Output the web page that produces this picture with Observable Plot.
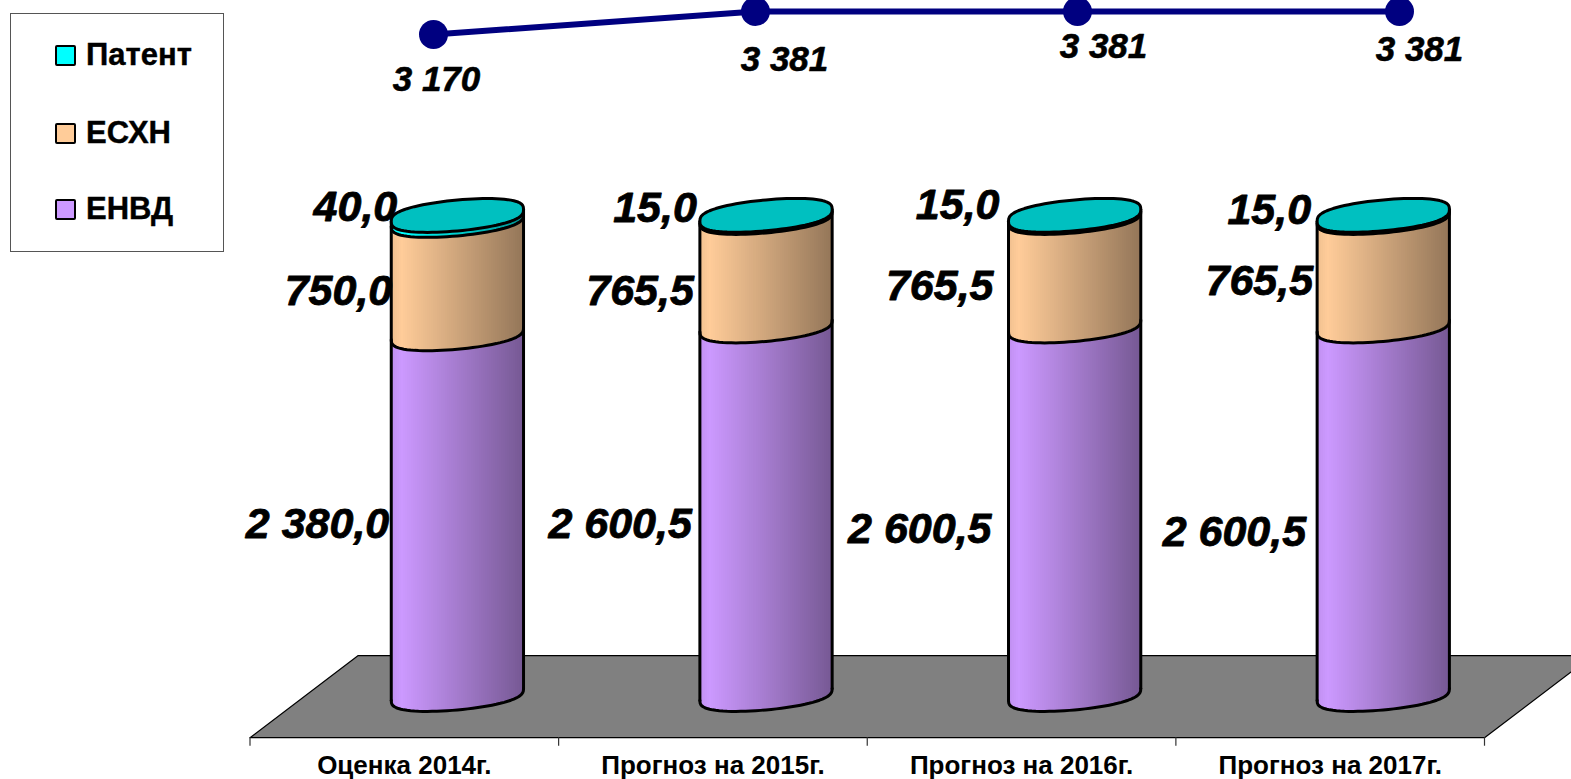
<!DOCTYPE html>
<html><head><meta charset="utf-8">
<script src="https://cdn.jsdelivr.net/npm/d3@7"></script>
<script src="https://cdn.jsdelivr.net/npm/@observablehq/plot@0.6"></script>
<style>
html,body{margin:0;padding:0;background:#fff;overflow:hidden}
#wrap{position:relative;width:1571px;height:779px;font-family:"Liberation Sans",Arial,sans-serif}
#wrap svg{position:absolute;left:0;top:0;background:transparent;overflow:hidden}
#legend{position:absolute;left:10px;top:13px;width:212px;height:237px;border:1px solid #555;box-sizing:content-box}
.li{position:absolute;left:44px;display:flex;align-items:center;font-weight:bold;font-size:31px;color:#000;height:30px;white-space:nowrap;-webkit-text-stroke:0.4px #000}
.sw{width:17px;height:17px;border:2.5px solid #000;border-radius:2px;margin-right:10px;flex:none}
</style></head><body>
<div id="wrap"></div>
<script>
const categories = ["Оценка 2014г.", "Прогноз на 2015г.", "Прогноз на 2016г.", "Прогноз на 2017г."];
const seriesNames = ["ЕНВД", "ЕСХН", "Патент"];
const seriesColors = ["#cc99ff", "#ffcc99", "#00ffff"];
const capColor = "#00c0c0";
// heights as drawn in the picture
const envd = [2545, 2600.5, 2600.5, 2600.5];
const eshn = [800, 765.5, 765.5, 765.5];
const patent = [35, 15, 15, 15];
// labels as printed
const envdLabels = ["2 380,0", "2 600,5", "2 600,5", "2 600,5"];
const eshnLabels = ["750,0", "765,5", "765,5", "765,5"];
const patentLabels = ["40,0", "15,0", "15,0", "15,0"];
const totals = [3170, 3381, 3381, 3381];
const totalLabels = ["3 170", "3 381", "3 381", "3 381"];

// layout (pixels / chart units)
const W = 1571, H = 779, FONT = '"Liberation Sans",Arial,sans-serif';
const OFFSET = 0.672, R = 0.2143, B = 109, S = 42, N = 66, ROUND = 0.72;
const FLOOR_FRONT = -305, FLOOR_BACK = 275, FLOOR_SHIFT = 108 / 308;
const labelNudge = {
  envd:   {dx: [-2, -8, -17, -11], dy: [10, 14, 19, 22]},
  eshn:   {dx: [1, -6, -15, -4],  dy: [14, 20, 15, 10]},
  patent: {dx: [6, -3, -9, -6],   dy: [-8, -7, -10, -5]}
};
const totalNudge = {dx: [3, 29, 26, 20], dy: [45, 48, 35, 38]};

const shade = (hex, u) => {
  const t = (u + 1) / 2;
  const k = t < 0.08 ? 0.94 + t * 0.75 : 1 - (t - 0.08) / 0.92 * 0.42;
  const c = d3.rgb(hex);
  return d3.rgb(c.r * k, c.g * k, c.b * k).formatHex();
};
const bulge = s => Math.sign(s) * Math.pow(Math.abs(s), ROUND);
const lower = u => S * u - B * bulge(Math.sqrt(Math.max(0, 1 - u * u)));

const strips = [], arcs = [], sides = [], caps = [];
categories.forEach((cat, i) => {
  const cx = i + OFFSET;
  const stack = [[0, envd[i], 0], [envd[i], envd[i] + eshn[i], 1], [envd[i] + eshn[i], envd[i] + eshn[i] + patent[i], 2]];
  stack.forEach(([lo, hi, s]) => {
    for (let k = 0; k < N; k++) {
      const a = -1 + 2 * k / N, b = -1 + 2 * (k + 1) / N, m = (a + b) / 2;
      strips.push({x1: cx + R * a, x2: cx + R * b, y1: lo + lower(m), y2: hi + lower(m), fill: shade(seriesColors[s], m)});
    }
    for (let k = 0; k <= 40; k++) {
      const t = Math.PI * k / 40, u = Math.cos(t);
      arcs.push({key: i + "-" + s, x: cx + R * u, y: lo + S * u - B * bulge(Math.sin(t))});
    }
  });
  const top = stack[2][1];
  for (const [u, key] of [[-1, "L"], [1, "R"]]) {
    sides.push({key: i + key, x: cx + R * u, y: S * u});
    sides.push({key: i + key, x: cx + R * u, y: top + S * u});
  }
  for (let k = 0; k <= 80; k++) {
    const t = 2 * Math.PI * k / 80, u = Math.cos(t);
    caps.push({key: i, x: cx + R * u, y: top + S * u - B * bulge(Math.sin(t))});
  }
});

const labelRows = [];
categories.forEach((cat, i) => {
  const x = i + OFFSET - R;
  labelRows.push({x, y: envd[i] / 2, text: envdLabels[i], dx: labelNudge.envd.dx[i], dy: labelNudge.envd.dy[i]});
  labelRows.push({x, y: envd[i] + eshn[i] / 2, text: eshnLabels[i], dx: labelNudge.eshn.dx[i], dy: labelNudge.eshn.dy[i]});
  labelRows.push({x, y: envd[i] + eshn[i] + patent[i], text: patentLabels[i], dx: labelNudge.patent.dx[i], dy: labelNudge.patent.dy[i]});
});

const floor = [
  {x: 0, y: FLOOR_FRONT}, {x: 4, y: FLOOR_FRONT},
  {x: 4 + FLOOR_SHIFT, y: FLOOR_BACK}, {x: FLOOR_SHIFT, y: FLOOR_BACK}, {x: 0, y: FLOOR_FRONT}
];

const main = Plot.plot({
  width: W, height: H, margin: 0, marginBottom: 24,
  style: {fontFamily: FONT, background: "transparent"},
  x: {type: "linear", domain: [0, 4], range: [249.5, 1484]},
  y: {type: "linear", domain: [0, 4897], range: [694, 0], axis: null},
  color: {type: "identity"},
  marks: [
    Plot.line(floor, {x: "x", y: "y", fill: "#808080", stroke: "#000", strokeWidth: 1.2}),
    Plot.ruleX(d3.range(5), {y1: FLOOR_FRONT, y2: FLOOR_FRONT - 60, stroke: "#333", strokeWidth: 1.2}),
    Plot.axisX(categories.map((d, i) => i + 0.5), {
      tickFormat: d => categories[Math.floor(d)], tickSize: 0, tickPadding: 0, label: null,
      fontSize: 26, fontWeight: "bold", fill: "#000", anchor: "bottom"
    }),
    Plot.rect(strips, {x1: "x1", x2: "x2", y1: "y1", y2: "y2", fill: "fill", shapeRendering: "crispEdges"}),
    Plot.line(arcs, {x: "x", y: "y", z: "key", stroke: "#000", strokeWidth: 3}),
    Plot.line(sides, {x: "x", y: "y", z: "key", stroke: "#000", strokeWidth: 3}),
    Plot.line(caps, {x: "x", y: "y", z: "key", fill: capColor, stroke: "#000", strokeWidth: 3}),
    Plot.text(labelRows, {
      x: "x", y: "y", text: "text", textAnchor: "end", fontSize: 43, fontWeight: "bold",
      fontStyle: "italic", fill: "#000", stroke: "#000", strokeWidth: 0.8, lineAnchor: "middle",
      render(index, scales, values, dims, ctx, next) {
        const g = next(index, scales, values, dims, ctx);
        d3.select(g).selectAll("text").attr("transform", function (_, j) {
          const r = labelRows[index[j]];
          return `translate(${values.x[index[j]] + r.dx},${values.y[index[j]] + r.dy})`;
        });
        return g;
      }
    })
  ]
});

const rows = categories.map((c, i) => ({c, v: totals[i], t: totalLabels[i], i}));
const over = Plot.plot({
  width: W, height: H, margin: 0,
  style: {fontFamily: FONT, background: "transparent"},
  x: {type: "point", domain: categories, range: [433, 1399], padding: 0, axis: null},
  y: {type: "linear", domain: [3170, 3381], range: [34, 11], axis: null},
  marks: [
    Plot.line(rows, {x: "c", y: "v", stroke: "#000080", strokeWidth: 6}),
    Plot.dot(rows, {x: "c", y: "v", r: 14.5, fill: "#000080", stroke: "none"}),
    ...rows.map(r => Plot.text([r], {
      x: "c", y: "v", text: "t", dx: totalNudge.dx[r.i], dy: totalNudge.dy[r.i],
      fontSize: 35, fontWeight: "bold", fontStyle: "italic", fill: "#000", stroke: "#000", strokeWidth: 0.6, textAnchor: "middle"
    }))
  ]
});

const wrap = document.getElementById("wrap");
wrap.append(main, over);
const legend = document.createElement("div");
legend.id = "legend";
const tops = [26, 104, 180];
[2, 1, 0].forEach((s, k) => {
  const li = document.createElement("div");
  li.className = "li";
  li.style.top = tops[k] + "px";
  const sw = document.createElement("span");
  sw.className = "sw";
  sw.style.background = seriesColors[s];
  li.append(sw, seriesNames[s]);
  legend.append(li);
});
wrap.append(legend);
</script>
</body></html>
